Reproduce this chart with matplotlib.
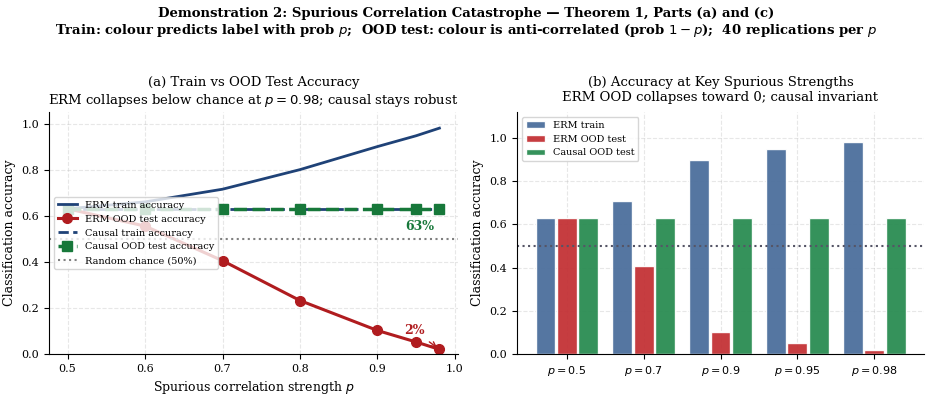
import numpy as np
import matplotlib.pyplot as plt

plt.rcParams['font.family'] = 'DejaVu Serif'

# data
p_vals = [0.5, 0.6, 0.7, 0.8, 0.9, 0.95, 0.98]
erm_train = [0.63, 0.66, 0.715, 0.80, 0.90, 0.947, 0.98]
erm_ood = [0.63, 0.555, 0.405, 0.232, 0.102, 0.052, 0.02]
causal_train = [0.63, 0.63, 0.63, 0.63, 0.63, 0.63, 0.63]
causal_ood = [0.63, 0.63, 0.63, 0.63, 0.63, 0.63, 0.63]

key_labels = ['$p = 0.5$', '$p = 0.7$', '$p = 0.9$', '$p = 0.95$', '$p = 0.98$']
bar_erm_train = [0.63, 0.71, 0.90, 0.95, 0.98]
bar_erm_ood = [0.63, 0.405, 0.10, 0.05, 0.02]
bar_causal_ood = [0.63, 0.63, 0.63, 0.63, 0.63]

c_blue = '#1f4277'
c_red = '#b01c1f'
c_green = '#17783a'

fig = plt.figure(figsize=(9.32, 3.96), dpi=100)
ax1 = fig.add_axes([49/932, 1-354/396, 409/932, 242/396])
ax2 = fig.add_axes([517/932, 1-354/396, 407/932, 242/396])

fig.suptitle('Demonstration 2: Spurious Correlation Catastrophe \u2014 Theorem 1, Parts (a) and (c)\n'
             'Train: colour predicts label with prob $p$;  OOD test: colour is anti-correlated (prob $1-p$);  40 replications per $p$',
             fontsize=9.5, fontweight='bold', y=0.983)

# (a) line chart
ax1.plot(p_vals, erm_train, color=c_blue, lw=2, label='ERM train accuracy')
ax1.plot(p_vals, erm_ood, color=c_red, lw=2.2, marker='o', ms=7, label='ERM OOD test accuracy')
ax1.plot(p_vals, causal_train, color=c_blue, lw=2, ls='--', label='Causal train accuracy')
ax1.plot(p_vals, causal_ood, color=c_green, lw=2.5, ls='--', marker='s', ms=7, label='Causal OOD test accuracy')
ax1.axhline(0.5, color='gray', ls=':', lw=1.5, label='Random chance (50%)')
ax1.text(0.955, 0.555, '63%', color=c_green, fontsize=9, fontweight='bold', ha='center', va='center')
ax1.annotate('2%', xy=(0.98, 0.02), xytext=(0.948, 0.10), color=c_red, fontsize=9,
             fontweight='bold', ha='center', va='center',
             arrowprops=dict(arrowstyle='->', color=c_red, lw=1))
ax1.set_ylim(0, 1.05)
ax1.set_xlabel('Spurious correlation strength $p$', fontsize=9)
ax1.set_ylabel('Classification accuracy', fontsize=9)
ax1.set_title('(a) Train vs OOD Test Accuracy\nERM collapses below chance at $p = 0.98$; causal stays robust',
              fontsize=9.5)
ax1.tick_params(labelsize=8)
ax1.grid(True, ls='--', alpha=0.3)
ax1.legend(loc='center left', bbox_to_anchor=(0.0, 0.50), fontsize=7, framealpha=0.8)

# (b) bar chart
x = np.arange(len(key_labels))
w = 0.26
ax2.bar(x - w - 0.02, bar_erm_train, w, color='#4c6f9c', alpha=0.95, edgecolor='white', label='ERM train')
ax2.bar(x, bar_erm_ood, w, color='#c33236', alpha=0.95, edgecolor='white', label='ERM OOD test')
ax2.bar(x + w + 0.02, bar_causal_ood, w, color='#2a8c52', alpha=0.95, edgecolor='white', label='Causal OOD test')
ax2.axhline(0.5, color='#555566', ls=':', lw=1.5)
ax2.set_xticks(x)
ax2.set_xticklabels(key_labels)
ax2.set_ylim(0, 1.12)
ax2.set_ylabel('Classification accuracy', fontsize=9)
ax2.set_title('(b) Accuracy at Key Spurious Strengths\nERM OOD collapses toward 0; causal invariant',
              fontsize=9.5, y=1.01)
ax2.tick_params(labelsize=8)
ax2.grid(True, ls='--', alpha=0.3)
ax2.set_axisbelow(True)
ax2.legend(loc='upper left', fontsize=7)

for ax in (ax1, ax2):
    ax.spines['top'].set_visible(False)
    ax.spines['right'].set_visible(False)

fig.savefig('out.png', dpi=100)
